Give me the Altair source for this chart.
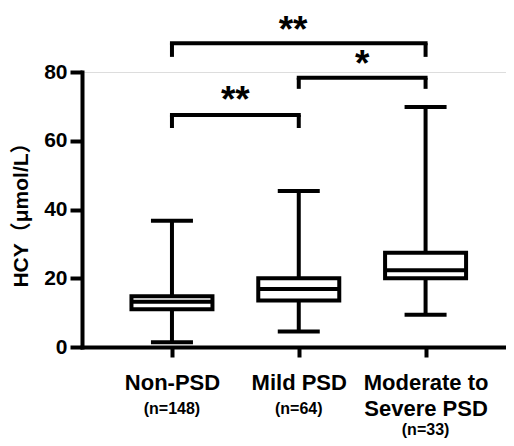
import altair as alt
import pandas as pd

# ---- data ----
groups = ["Non-PSD", "Mild PSD", "Moderate to Severe PSD"]
group_lines = [["Non-PSD"], ["Mild PSD"], ["Moderate to", "Severe PSD"]]
n_labels = ["(n=148)", "(n=64)", "(n=33)"]
whisker_min = [1.4, 4.5, 9.4]
q1 = [11.0, 13.5, 20.0]
median = [13.2, 16.9, 22.3]
q3 = [14.8, 20.0, 27.4]
whisker_max = [36.7, 45.4, 69.8]

# significance brackets: from group index, to group index, bar height, leg end, label
br_from = [0, 1, 0]
br_to = [2, 2, 1]
br_top = [88.4, 78.3, 67.5]
br_leg = [84.4, 75.1, 63.7]
br_text = ["**", "*", "**"]
br_text_x = [0.955, 1.5, 0.5]
br_text_y = [88.8, 78.9, 68.4]

idx = list(range(len(groups)))
box = pd.DataFrame({"i": idx, "group": groups, "lo": whisker_min, "q1": q1,
                    "med": median, "q3": q3, "hi": whisker_max, "n": n_labels})
brk = pd.DataFrame({"a": br_from, "b": br_to, "top": br_top, "leg": br_leg})
legs = pd.DataFrame({"x": br_from + br_to, "top": br_top * 2, "leg": br_leg * 2})
btxt = pd.DataFrame({"x": br_text_x, "y": br_text_y, "t": br_text})

FONT = "Liberation Sans"
TFONT = "Liberation Sans, Noto Sans CJK SC"
label_expr = "[" + ",".join(
    "[" + ",".join("'" + s + "'" for s in lines) + "]" for lines in group_lines
) + "][datum.value]"

xscale = alt.Scale(domain=[-0.67, 2.65], nice=False, zero=False)
yscale = alt.Scale(domain=[0, 80], nice=False)

xaxis = alt.Axis(values=idx, labelExpr=label_expr, title=None, grid=False,
                 tickSize=10, tickWidth=4, tickColor="black",
                 domainWidth=4, domainColor="black", domainCap="square",
                 labelFont=FONT, labelFontSize=22, labelFontWeight="bold",
                 labelColor="black", labelPadding=15, labelLineHeight=26,
                 labelBaseline="top")
yaxis = alt.Axis(values=[0, 20, 40, 60, 80], title="HCY（μmol/L）", grid=False,
                 tickSize=12, tickWidth=4, tickColor="black",
                 domainWidth=4, domainColor="black", domainCap="square",
                 labelFont=FONT, labelFontSize=21, labelFontWeight="bold",
                 labelColor="black", labelPadding=3,
                 titleFont=TFONT, titleFontSize=21, titleFontWeight="bold",
                 titleColor="black", titleX=-55, titleBaseline="alphabetic")

base = alt.Chart(box)

whisk = base.mark_rule(color="black", strokeWidth=4).encode(
    x=alt.X("i:Q", scale=xscale, axis=xaxis),
    y=alt.Y("lo:Q", scale=yscale, axis=yaxis),
    y2="hi:Q",
)
caps_lo = base.mark_tick(color="black", size=42, thickness=4, orient="horizontal", opacity=1).encode(
    x="i:Q", y="lo:Q")
caps_hi = base.mark_tick(color="black", size=42, thickness=4, orient="horizontal", opacity=1).encode(
    x="i:Q", y="hi:Q")
boxes = base.mark_bar(size=81, fill="white", stroke="black", strokeWidth=4).encode(
    x="i:Q", y="q1:Q", y2="q3:Q")
meds = base.mark_tick(color="black", size=81, thickness=4, orient="horizontal", opacity=1).encode(
    x="i:Q", y="med:Q")
ntext_a = base.transform_filter("datum.i < 2").mark_text(
    font=FONT, fontSize=16, fontWeight="bold", color="black", baseline="alphabetic").encode(
    x="i:Q", y=alt.value(342), text="n:N")
ntext_b = base.transform_filter("datum.i == 2").mark_text(
    font=FONT, fontSize=16, fontWeight="bold", color="black", baseline="alphabetic").encode(
    x="i:Q", y=alt.value(363), text="n:N")

hbar = alt.Chart(brk).mark_rule(color="black", strokeWidth=4, strokeCap="square").encode(
    x="a:Q", x2="b:Q", y="top:Q")
vleg = alt.Chart(legs).mark_rule(color="black", strokeWidth=4).encode(
    x="x:Q", y="leg:Q", y2="top:Q")
stars = alt.Chart(btxt).mark_text(font=FONT, fontSize=37, fontWeight="bold", color="black",
                                  baseline="alphabetic").encode(
    x="x:Q", y="y:Q", text="t:N")

chart = alt.layer(whisk, caps_lo, caps_hi, boxes, meds, ntext_a, ntext_b, hbar, vleg, stars).properties(
    width=431, height=275,
    autosize=alt.AutoSizeParams(type="none"),
    padding={"left": 74, "top": 64, "right": -7, "bottom": 91},
).configure_view(
    stroke="white", strokeWidth=0, strokeOpacity=0
).configure_axis(
    grid=False, gridOpacity=0
).configure(background="white")

chart.save("out.html", embed_options={"renderer": "svg", "actions": False})
